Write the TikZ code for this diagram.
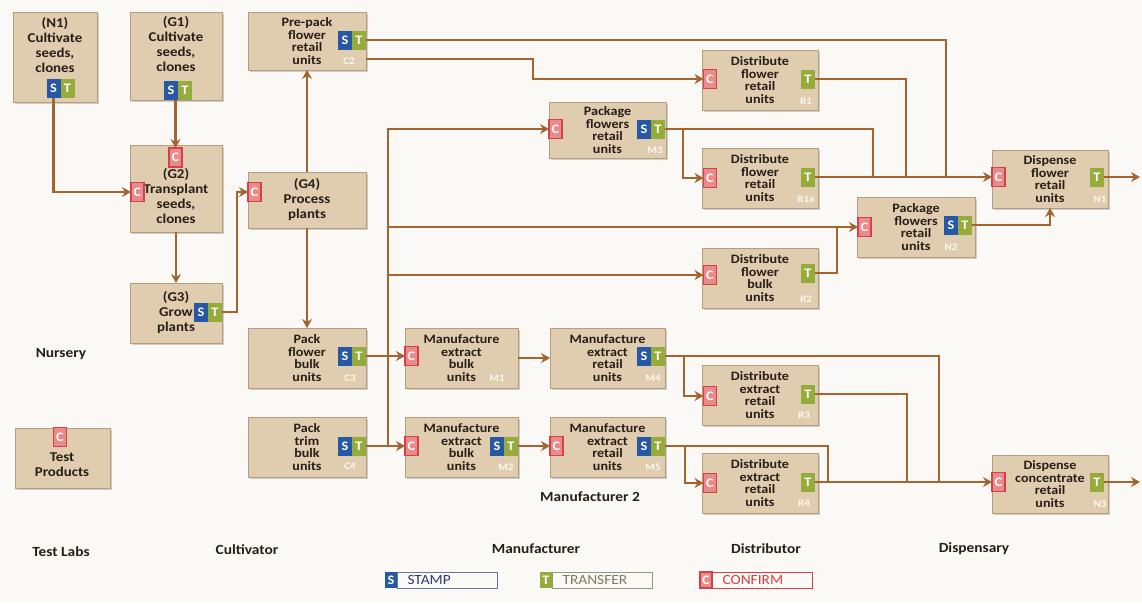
\documentclass[tikz,border=0pt]{standalone}
\usepackage{fontspec}
\setmainfont{Carlito}[FakeStretch=1.1]
\usepackage{tikz}
\usetikzlibrary{arrows.meta,calc,positioning,shadows}
\definecolor{paper}{RGB}{250,249,245}
\definecolor{boxtan}{RGB}{224,205,176}
\definecolor{boxedge}{RGB}{180,158,126}
\definecolor{textdark}{RGB}{40,30,24}
\definecolor{linebrown}{RGB}{164,100,48}
\definecolor{stampblue}{RGB}{38,88,165}
\definecolor{transgreen}{RGB}{150,172,58}
\definecolor{confred}{RGB}{212,66,72}
\definecolor{confpink}{RGB}{234,138,138}
\definecolor{tagwhite}{RGB}{250,248,240}
\definecolor{legblue}{RGB}{40,60,110}
\definecolor{leggreen}{RGB}{120,125,95}
\newdimen\hdim
\newdimen\wdim
\hdim=60pt
\wdim=116pt
\tikzstyle{stagebox}=[
  draw=boxedge,
  fill=boxtan,
  font={\bfseries\fontsize{12.8}{12.5}\selectfont\lineskiplimit=-6pt},
  text=textdark,
  align=center,
  inner sep=0pt,
  minimum height=\hdim,
  minimum width=\wdim,
  outer sep=0pt,
  rectangle,
  drop shadow={shadow xshift=1.5pt, shadow yshift=-1.5pt, opacity=0.35},
]
\tikzstyle{bigtext}=[
  font={\bfseries\fontsize{13.5}{15}\selectfont\lineskiplimit=-6pt},
  text=textdark,
  align=center,
  inner sep=0pt,
]
\tikzstyle{badge}=[
  font={\bfseries\fontsize{13}{13}\selectfont},
  inner sep=0pt,
  minimum height=19pt,
  minimum width=14pt,
  outer sep=0pt,
  text=white,
]
\tikzstyle{sbadge}=[badge, fill=stampblue]
\tikzstyle{tbadge}=[badge, fill=transgreen]
\tikzstyle{cbadge}=[badge, fill=confpink, draw=confred, line width=1.2pt, minimum width=13pt]
\tikzstyle{tag}=[
  font={\bfseries\fontsize{10}{10}\selectfont},
  inner sep=0pt,
  text=tagwhite,
]
\tikzstyle{role}=[
  font={\bfseries\fontsize{14}{14}\selectfont},
  inner sep=0pt,
  text=textdark,
]
\tikzstyle{legendbox}=[
  align=left,
  font={\fontsize{14}{14}\selectfont},
  inner xsep=10pt,
  inner ysep=0pt,
  line width=1pt,
  minimum height=16pt,
  text width=80pt,
]
\tikzstyle{flow}=[
  color=linebrown,
  line width=2.6pt,
]
\tikzset{
  >={Stealth[length=9pt,width=10pt,inset=3pt]},
}
\begin{document}
\begin{tikzpicture}[x=1pt,y=-1pt]
  \fill [paper] (0,0) rectangle (1142,603);
  \useasboundingbox (0,0) rectangle (1142,603);

  \node (nurs) [stagebox, minimum width=84pt, minimum height=90pt] at (55,57) {};
  \node (nurstxt) [bigtext] at (55,45) {(N1)\\Cultivate\\seeds,\\clones};
  \node (nurst) [tbadge] at (67.5,88) {T};
  \node (nurss) [sbadge, left=0pt of nurst] {S};

  \node (g1) [stagebox, minimum width=92pt, minimum height=88pt] at (176,56) {};
  \node (g1txt) [bigtext] at (176,44) {(G1)\\Cultivate\\seeds,\\clones};
  \node (g1t) [tbadge] at (185,90) {T};
  \node (g1s) [sbadge, left=0pt of g1t] {S};

  \node (g2) [stagebox, minimum width=92pt, minimum height=87pt] at (176,188.5) {};
  \node (g2txt) [bigtext] at (176,196) {(G2)\\Transplant\\seeds,\\clones};
  \node (g2ct) [cbadge] at (175.5,157.5) {C};
  \node (g2cl) [cbadge] at (137.5,192) {C};

  \node (g3) [stagebox, font={\bfseries\fontsize{13.5}{15}\selectfont}, minimum width=92pt] at (176,313) {(G3)\\Grow\\plants};
  \node (g3t) [tbadge] at (215,312) {T};
  \node (g3s) [sbadge, left=0pt of g3t] {S};

  \node (g4) [stagebox, font={\bfseries\fontsize{13.5}{15}\selectfont}, minimum width=118pt, minimum height=56pt] at (307,200) {(G4)\\Process\\plants};
  \node (g4c) [cbadge] at (254.5,192) {C};

  \node (c2) [stagebox, minimum width=118pt, minimum height=58pt] at (307,41) {Pre-pack\\flower\\retail\\units};
  \node (c2t) [tbadge] at (359,40) {T};
  \node (c2s) [sbadge, left=0pt of c2t] {S};
  \node (c2tag) [tag] at (349,61) {C2};

  \node (c3) [stagebox, minimum width=118pt] at (307,358) {Pack\\flower\\bulk\\units};
  \node (c3t) [tbadge] at (359,356) {T};
  \node (c3s) [sbadge, left=0pt of c3t] {S};
  \node (c3tag) [tag] at (350,378) {C3};

  \node (c4) [stagebox, minimum width=118pt] at (307,447) {Pack\\trim\\bulk\\units};
  \node (c4t) [tbadge] at (359,446) {T};
  \node (c4s) [sbadge, left=0pt of c4t] {S};
  \node (c4tag) [tag] at (350,466) {C4};

  \node (lab) [stagebox, minimum width=95pt] at (62.5,458) {};
  \node (labtxt) [bigtext] at (62,465) {Test\\Products};
  \node (labc) [cbadge] at (60,437) {C};

  \node (m1) [stagebox, minimum width=113pt] at (461.5,358) {Manufacture\\extract\\bulk\\units};
  \node (m1c) [cbadge] at (411.5,356) {C};
  \node (m1tag) [tag] at (497,378) {M1};

  \node (m4) [stagebox, minimum width=115pt] at (607.5,358) {Manufacture\\extract\\retail\\units};
  \node (m4t) [tbadge] at (658,356) {T};
  \node (m4s) [sbadge, left=0pt of m4t] {S};
  \node (m4tag) [tag] at (653,378) {M4};

  \node (m2) [stagebox, minimum width=113pt] at (461.5,447) {Manufacture\\extract\\bulk\\units};
  \node (m2c) [cbadge] at (411.5,446) {C};
  \node (m2t) [tbadge] at (511,446) {T};
  \node (m2s) [sbadge, left=0pt of m2t] {S};
  \node (m2tag) [tag] at (506,467) {M2};

  \node (m5) [stagebox, minimum width=115pt] at (607.5,447) {Manufacture\\extract\\retail\\units};
  \node (m5c) [cbadge] at (556.5,446) {C};
  \node (m5t) [tbadge] at (658,446) {T};
  \node (m5s) [sbadge, left=0pt of m5t] {S};
  \node (m5tag) [tag] at (653,467) {M5};

  \node (m3) [stagebox, minimum width=117pt, minimum height=56pt] at (607.5,130) {Package\\flowers\\retail\\units};
  \node (m3c) [cbadge] at (555.5,129) {C};
  \node (m3t) [tbadge] at (658,129) {T};
  \node (m3s) [sbadge, left=0pt of m3t] {S};
  \node (m3tag) [tag] at (655,150) {M3};

  \node (r1) [stagebox] at (760,80) {Distribute\\flower\\retail\\units};
  \node (r1c) [cbadge] at (710,79) {C};
  \node (r1t) [tbadge] at (808,79) {T};
  \node (r1tag) [tag] at (806,101) {R1};

  \node (r1a) [stagebox] at (760,178) {Distribute\\flower\\retail\\units};
  \node (r1ac) [cbadge] at (710,178) {C};
  \node (r1at) [tbadge] at (808,177) {T};
  \node (r1atag) [tag] at (806,199) {R1a};

  \node (r2) [stagebox] at (760,278) {Distribute\\flower\\bulk\\units};
  \node (r2c) [cbadge] at (710,275) {C};
  \node (r2t) [tbadge] at (808,273) {T};
  \node (r2tag) [tag] at (806,299) {R2};

  \node (r3) [stagebox] at (760,395) {Distribute\\extract\\retail\\units};
  \node (r3c) [cbadge] at (710,396) {C};
  \node (r3t) [tbadge] at (808,394) {T};
  \node (r3tag) [tag] at (804,415) {R3};

  \node (r4) [stagebox] at (760,483) {Distribute\\extract\\retail\\units};
  \node (r4c) [cbadge] at (710,483) {C};
  \node (r4t) [tbadge] at (808,482) {T};
  \node (r4tag) [tag] at (804,503) {R4};

  \node (n2) [stagebox, minimum width=118pt] at (916,227) {Package\\flowers\\retail\\units};
  \node (n2c) [cbadge] at (864.5,227) {C};
  \node (n2t) [tbadge] at (965,225) {T};
  \node (n2s) [sbadge, left=0pt of n2t] {S};
  \node (n2tag) [tag] at (951,247) {N2};

  \node (n1) [stagebox, minimum height=58pt] at (1050,179) {Dispense\\flower\\retail\\units};
  \node (n1c) [cbadge] at (998.5,177) {C};
  \node (n1t) [tbadge] at (1097,177) {T};
  \node (n1tag) [tag] at (1100,199) {N1};

  \node (n3) [stagebox, minimum height=58pt] at (1050,484) {Dispense\\concentrate\\retail\\units};
  \node (n3c) [cbadge] at (998.5,482) {C};
  \node (n3t) [tbadge] at (1097,482) {T};
  \node (n3tag) [tag] at (1100,504) {N3};

  \node (nursery) [role] at (61,354) {Nursery};
  \node (testlabs) [role] at (61,552) {Test Labs};
  \node (cultivator) [role] at (247,550) {Cultivator};
  \node (manuf) [role] at (536,549) {Manufacturer};
  \node (manuf2) [role] at (590,497) {Manufacturer 2};
  \node (distrib) [role] at (766,549) {Distributor};
  \node (dispens) [role] at (974,549) {Dispensary};

  \node (legs) [sbadge, minimum height=16pt, minimum width=12pt] at (391,580) {S};
  \node (legstamp) [legendbox, draw=legblue!70, text=legblue, right=0pt of legs] {STAMP};
  \node (legt) [tbadge, minimum height=16pt, minimum width=12pt] at (546,580) {T};
  \node (legtrans) [legendbox, draw=leggreen!80, text=leggreen, right=0pt of legt] {TRANSFER};
  \node (legc) [cbadge, minimum height=16pt, minimum width=12pt] at (706,580) {C};
  \node (legconf) [legendbox, draw=confred, text=confred, right=0pt of legc] {CONFIRM};

  \coordinate (ja) at (873,177);
  \coordinate (jb) at (906,177);
  \coordinate (jc) at (946,177);
  \coordinate (jd) at (837,227);
  \coordinate (je) at (939,482);
  \coordinate (jf) at (907,482);
  \coordinate (jg) at (828,482);
  \coordinate (tk0) at (388,446);
  \coordinate (tk1) at (388,227);
  \coordinate (tk2) at (388,275);
  \coordinate (out1) at (1140,177);
  \coordinate (out2) at (1140,482);

  \draw [->, flow] (nurss.south) |- (g2cl.west);
  \draw [->, flow] (g1s.south -| g2ct) -- (g2ct.north);
  \draw [->, flow] (g2) -- (g3);
  \draw [->, flow] (g3t.east) -- ++(15,0) |- (g4c.west);
  \draw [->, flow] (g4) -- (c2);
  \draw [->, flow] (g4) -- (c3);
  \draw [flow] (c2t.east) -| (jc);
  \draw [->, flow] ([yshift=11pt]c2.south east) -- ++(167,0) |- (r1c.west);
  \draw [->, flow] (c3t.east) -- (m1c.west);
  \draw [->, flow] (c4t.east) -- (m2c.west);
  \draw [->, flow] (tk0) |- (m3c.west);
  \draw [->, flow] (tk1) -- (n2c.west);
  \draw [->, flow] (tk2) -- (r2c.west);
  \draw [->, flow] (m1) -- (m4);
  \draw [->, flow] (m2t.east) -- (m5c.west);
  \draw [flow] (m4t.east) -| (je);
  \draw [->, flow] ([xshift=19pt]m4t.east) |- (r3c.west);
  \draw [flow] (m5t.east) -| (jg);
  \draw [->, flow] ([xshift=20pt]m5t.east) |- (r4c.west);
  \draw [flow] (m3t.east) -| (ja);
  \draw [->, flow] ([xshift=18pt]m3t.east) |- (r1ac.west);
  \draw [flow] (r1t.east) -| (jb);
  \draw [->, flow] (r1at.east) -- (n1c.west);
  \draw [flow] (r2t.east) -| (jd);
  \draw [->, flow] (n2t.east) -| (n1.south);
  \draw [flow] (r3t.east) -| (jf);
  \draw [->, flow] (r4t.east) -- (n3c.west);
  \draw [->, flow] (n1t.east) -- (out1);
  \draw [->, flow] (n3t.east) -- (out2);
\end{tikzpicture}
\end{document}
